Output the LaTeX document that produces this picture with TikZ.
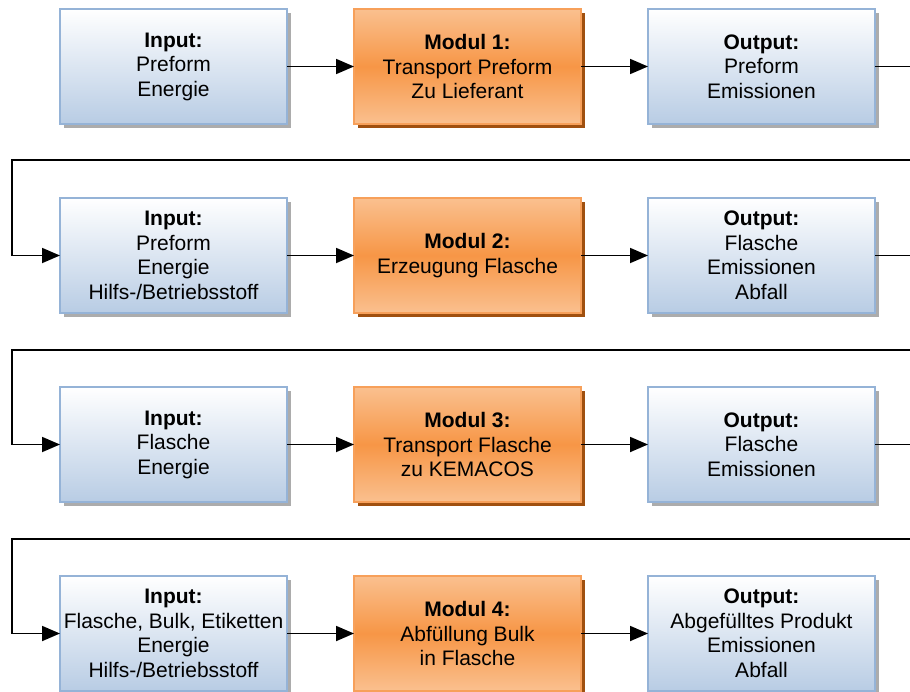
\documentclass[tikz,border=0pt]{standalone}
\usepackage{fontspec}
\setmainfont{Liberation Sans}
\usetikzlibrary{graphs, positioning, shadows, arrows.meta}

\definecolor{blueedge}{RGB}{149,179,215}
\definecolor{bluebottom}{RGB}{184,204,228}
\definecolor{orangeedge}{RGB}{247,160,90}
\definecolor{orangelight}{RGB}{250,192,143}
\definecolor{orangemid}{RGB}{247,150,70}
\definecolor{orangeshadow}{RGB}{160,80,15}

\tikzset{
    ioblock/.style={draw=blueedge, line width=2pt, top color=white, bottom color=bluebottom,
        minimum width=227pt, minimum height=115pt, inner sep=2pt, outer sep=0pt, align=center,
        drop shadow={shadow xshift=4pt, shadow yshift=-4pt, fill=gray!65, opacity=1}},
    modblock/.style={draw=orangeedge, line width=2pt, top color=orangelight,
        bottom color=orangelight, middle color=orangemid,
        minimum width=227pt, minimum height=115pt, inner sep=2pt, outer sep=0pt, align=center,
        drop shadow={shadow xshift=4pt, shadow yshift=-4pt, fill=orangeshadow, opacity=1}},
    loopline/.style={line width=1.8pt, -{Triangle[length=18pt,width=15pt]}},
}

\begin{document}
\begin{tikzpicture}[x=1pt, y=1pt, line width=1.8pt, >={Triangle[length=18pt,width=15pt]},
    font=\fontsize{21}{24.5}\selectfont]
    \useasboundingbox (0,0) rectangle (910,-691);

    \node[ioblock]                        (Input 1)  at (173.5,-66.5) {\textbf{Input:}\\Preform\\Energie};
    \node[modblock, right=67pt of Input 1] (Modul 1)  {\textbf{Modul 1:}\\Transport Preform\\Zu Lieferant};
    \node[ioblock, right=67pt of Modul 1]  (Output 1) {\textbf{Output:}\\Preform\\Emissionen};

    \node[ioblock, below=74pt of Input 1]  (Input 2)  {\textbf{Input:}\\Preform\\Energie\\Hilfs-/Betriebsstoff};
    \node[modblock, right=67pt of Input 2] (Modul 2)  {\textbf{Modul 2:}\\Erzeugung Flasche};
    \node[ioblock, right=67pt of Modul 2]  (Output 2) {\textbf{Output:}\\Flasche\\Emissionen\\Abfall};

    \node[ioblock, below=74pt of Input 2]  (Input 3)  {\textbf{Input:}\\Flasche\\Energie};
    \node[modblock, right=67pt of Input 3] (Modul 3)  {\textbf{Modul 3:}\\Transport Flasche\\zu KEMACOS};
    \node[ioblock, right=67pt of Modul 3]  (Output 3) {\textbf{Output:}\\Flasche\\Emissionen};

    \node[ioblock, below=74pt of Input 3]  (Input 4)  {\textbf{Input:}\\Flasche, Bulk, Etiketten\\Energie\\Hilfs-/Betriebsstoff};
    \node[modblock, right=67pt of Input 4] (Modul 4)  {\textbf{Modul 4:}\\Abfüllung Bulk\\in Flasche};
    \node[ioblock, right=67pt of Modul 4]  (Output 4) {\textbf{Output:}\\Abgefülltes Produkt\\Emissionen\\Abfall};

    % turning points of the return lines
    \coordinate (Turn 1) at (12,-160);
    \coordinate (Turn 2) at (12,-350);
    \coordinate (Turn 3) at (12,-539);

    \graph{
        (Input 1) -> (Modul 1) -> (Output 1);
        (Input 2) -> (Modul 2) -> (Output 2);
        (Input 3) -> (Modul 3) -> (Output 3);
        (Input 4) -> (Modul 4) -> (Output 4);
    };

    \draw[loopline] (Output 1.east) -- ++(60,0) |- (Turn 1) |- (Input 2.west);
    \draw[loopline] (Output 2.east) -- ++(60,0) |- (Turn 2) |- (Input 3.west);
    \draw[loopline] (Output 3.east) -- ++(60,0) |- (Turn 3) |- (Input 4.west);
\end{tikzpicture}
\end{document}
